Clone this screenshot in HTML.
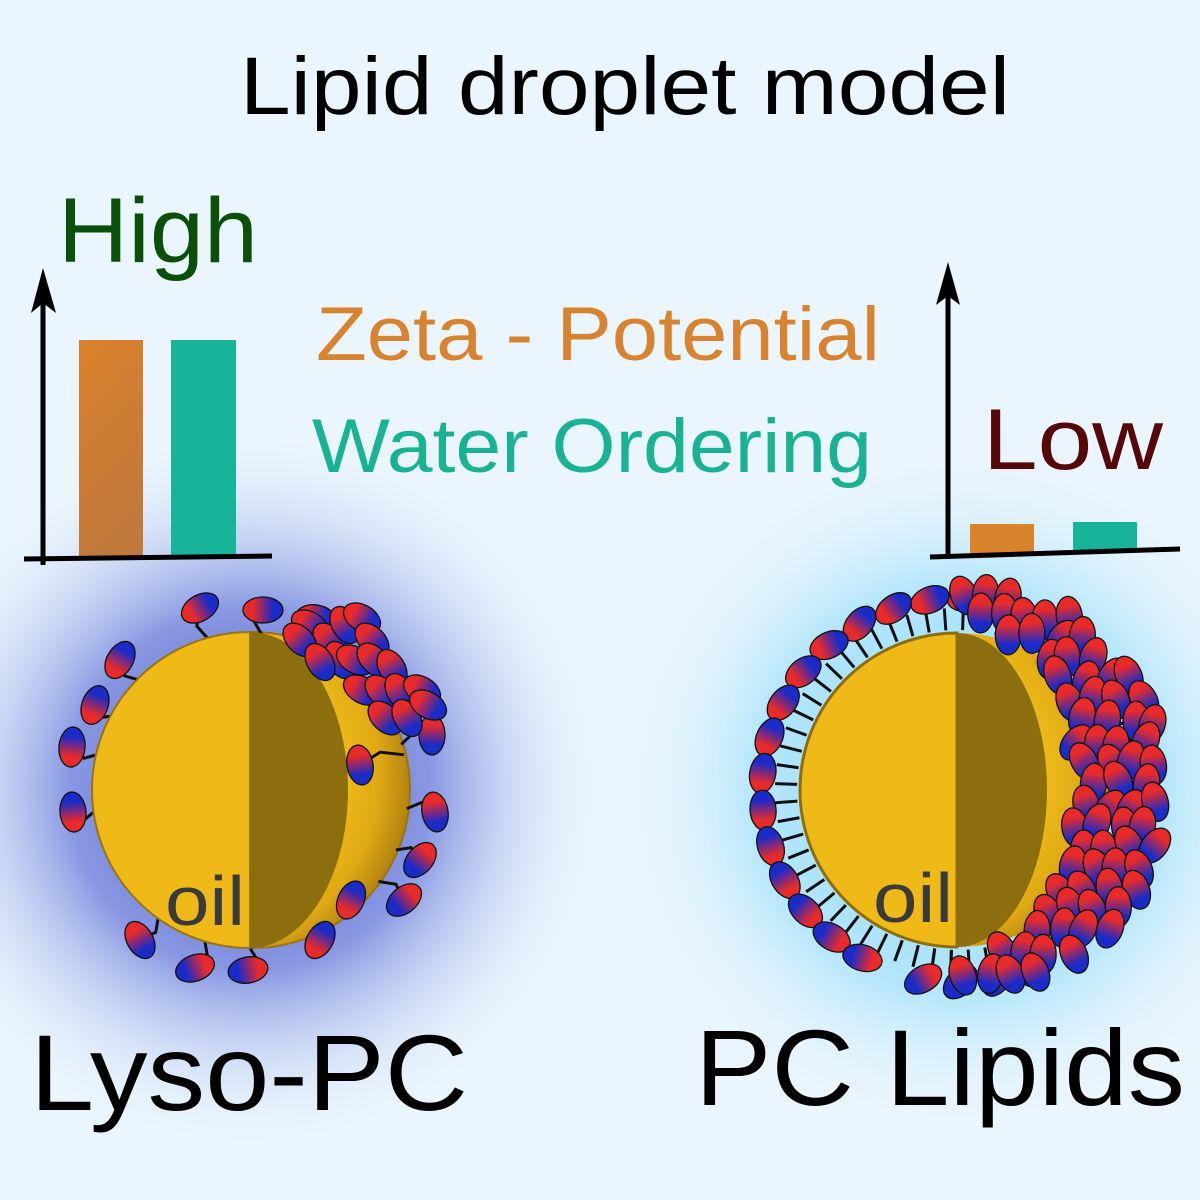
<!DOCTYPE html>
<html><head><meta charset="utf-8"><style>
html,body{margin:0;padding:0;width:1200px;height:1200px;overflow:hidden;background:#eaf5fd}
svg{display:block}
text{font-family:"Liberation Sans",sans-serif}
</style></head><body>
<svg id="s" width="1200" height="1200" viewBox="0 0 1200 1200" xmlns="http://www.w3.org/2000/svg">
<defs>
<radialGradient id="gl" cx="250" cy="790" r="360" gradientUnits="userSpaceOnUse">
<stop offset="0" stop-color="#5566d6"/><stop offset="0.5" stop-color="#8797e2"/><stop offset="1" stop-color="#eaf5fd" stop-opacity="0"/></radialGradient>
<radialGradient id="gr" cx="960" cy="790" r="340" gradientUnits="userSpaceOnUse">
<stop offset="0" stop-color="#8fdcfb"/><stop offset="0.6" stop-color="#b4e6fb"/><stop offset="1" stop-color="#eaf5fd" stop-opacity="0"/></radialGradient>
<radialGradient id="sph" cx="0.35" cy="0.45" r="0.65">
<stop offset="0.6" stop-color="#f2c01c"/><stop offset="0.85" stop-color="#e0a914"/><stop offset="1" stop-color="#b48410"/></radialGradient>
<linearGradient id="lip" x1="0" y1="0" x2="1" y2="0">
<stop offset="0.25" stop-color="#e82a2a"/><stop offset="0.75" stop-color="#1a2bc8"/></linearGradient>
<linearGradient id="ob" x1="0" y1="0" x2="0.3" y2="1">
<stop offset="0" stop-color="#da822a"/><stop offset="1" stop-color="#c0783c"/></linearGradient>
</defs>
<rect width="1200" height="1200" fill="#eaf5fd"/>
<rect width="1200" height="1200" fill="url(#gl)"/>
<rect width="1200" height="1200" fill="url(#gr)"/>

<text x="240" y="114" font-size="82" textLength="770" lengthAdjust="spacingAndGlyphs" fill="#000">Lipid droplet model</text>
<text x="58" y="262" font-size="92" textLength="200" lengthAdjust="spacingAndGlyphs" fill="#0b4f0b">High</text>
<text x="316" y="360" font-size="76" textLength="564" lengthAdjust="spacingAndGlyphs" fill="#d8832f">Zeta - Potential</text>
<text x="312" y="472" font-size="76" textLength="560" lengthAdjust="spacingAndGlyphs" fill="#19b394">Water Ordering</text>
<text x="983" y="469" font-size="86" textLength="180" lengthAdjust="spacingAndGlyphs" fill="#550808">Low</text>

<rect x="79" y="340" width="64" height="217" fill="url(#ob)"/>
<rect x="171" y="340" width="65" height="216" fill="#18b49a"/>
<line x1="43" y1="565" x2="43" y2="300" stroke="#000" stroke-width="5"/>
<polygon points="43,268 31,313 43,303 56,313" fill="#000"/>
<line x1="24" y1="559" x2="272" y2="556" stroke="#000" stroke-width="5"/>
<rect x="970" y="524" width="64" height="30" fill="#d8822a"/>
<rect x="1073" y="522" width="64" height="30" fill="#18b49a"/>
<line x1="948" y1="558" x2="948" y2="295" stroke="#000" stroke-width="5"/>
<polygon points="948,262 936,305 948,296 960,305" fill="#000"/>
<line x1="930" y1="557" x2="1180" y2="549" stroke="#000" stroke-width="5"/>

<g id="L"></g>
<g id="R"></g>

<text x="30" y="1110" font-size="108" textLength="438" lengthAdjust="spacingAndGlyphs" fill="#000">Lyso-PC</text>
<text x="695" y="1105" font-size="108" textLength="490" lengthAdjust="spacingAndGlyphs" fill="#000">PC Lipids</text>
</svg>
<script>
var NS="http://www.w3.org/2000/svg";
function el(p,t,a){var e=document.createElementNS(NS,t);for(var k in a)e.setAttribute(k,a[k]);p.appendChild(e);return e;}
function lip(g,x,y,ang){el(g,"ellipse",{cx:0,cy:0,rx:20,ry:13,fill:"url(#lip)",stroke:"#111","stroke-width":1.3,transform:"translate("+x+","+y+") rotate("+ang+")"});}
var L=document.getElementById("L");
var cx=252,cy=790,r=158;
el(L,"circle",{cx:cx,cy:cy,r:r,fill:"url(#sph)",stroke:"#9a7410","stroke-width":2});
var lp=[[200,608,-30],[263,610,0],[120,660,-60],[95,705,-70],[72,747,-85],[73,812,-95],[316,618,10],[432,735,90],[435,812,80],[420,860,130],[404,900,140],[351,900,-65],[320,940,-60],[248,970,170],[195,968,160],[140,940,60],[360,765,80]];
var cluster=[[310,625],[330,640],[345,625],[362,618],[372,640],[340,660],[355,660],[374,660],[392,668],[362,690],[382,692],[400,692],[422,690],[385,718],[407,718],[428,705],[300,640],[320,662]];
var LT=el(L,"g",{});
lp.forEach(function(p){var dx=p[0]-cx,dy=p[1]-cy,d=Math.hypot(dx,dy);var ex=cx+dx/d*(r-2),ey=cy+dy/d*(r-2);
var mx=(p[0]+ex)/2+dy/d*8,my=(p[1]+ey)/2-dx/d*8;
el(LT,"path",{d:"M"+p[0]+","+p[1]+" L"+mx+","+my+" L"+ex+","+ey,fill:"none",stroke:"#111","stroke-width":3});});
el(L,"path",{d:"M250,632 A158,158 0 0 0 250,948 Z",fill:"#efb918",stroke:"#9a7410","stroke-width":2});
el(L,"path",{d:"M250,632 A98,158 0 0 1 250,948 Z",fill:"#8d6e0e"});
lp.forEach(function(p){lip(L,p[0],p[1],p[2]);});
cluster.forEach(function(p,i){lip(L,p[0],p[1],30+(i%3)*15);});
el(L,"text",{x:165,y:925,"font-size":70,textLength:80,lengthAdjust:"spacingAndGlyphs",fill:"#3a3a3a"}).textContent="oil";
var R=document.getElementById("R");
var X=957,Y=790,rr=157;
el(R,"circle",{cx:X,cy:Y,r:rr,fill:"url(#sph)"});
var RT=el(R,"g",{});
var ring=[];
for(var a=-100;a<=265;a+=11){var t=a*Math.PI/180;ring.push([X+195*Math.cos(t),Y-192*Math.sin(t),-a]);}
for(var a=-110;a<=270;a+=6){var t=a*Math.PI/180,c=Math.cos(t),s=-Math.sin(t);
var r1=160,r2=182;el(RT,"line",{x1:X+r1*c,y1:Y+r1*s,x2:X+r2*c,y2:Y+r2*s,stroke:"#111","stroke-width":3});}
el(R,"path",{d:"M957,633 A157,157 0 0 0 957,947 Z",fill:"#efb918",stroke:"#8d6e0e","stroke-width":3});
el(R,"path",{d:"M957,633 A90,157 0 0 1 957,947 Z",fill:"#8d6e0e"});
ring.forEach(function(p){var a=-p[2];if(a>70&&a<250||a<-60)lip(R,p[0],p[1],p[2]+90+((a*7)%40-20));});
var seed=7;function rnd(){seed=(seed*9301+49297)%233280;return seed/233280;}
for(var yy=595;yy<=990;yy+=21){for(var xx=960;xx<=1185;xx+=24){var px=xx+(rnd()-0.5)*10+((yy/21)%2)*12,py=yy+(rnd()-0.5)*8;
var dx=px-X,dy=py-Y;if((dx*dx+dy*dy)>208*208)continue;
if((dx/110)*(dx/110)+(dy/170)*(dy/170)<1)continue;
if(dx>85&&dx<112&&Math.abs(dy)<80)continue;
lip(R,px,py,60+rnd()*70);}}
el(R,"text",{x:873,y:922,"font-size":70,textLength:80,lengthAdjust:"spacingAndGlyphs",fill:"#3a3a3a"}).textContent="oil";
</script>
</body></html>
